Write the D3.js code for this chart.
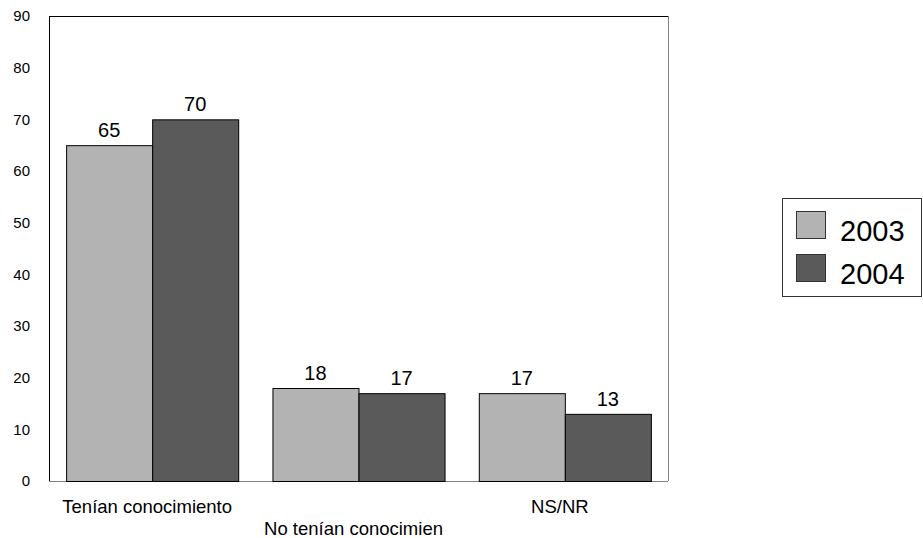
<!DOCTYPE html>
<html>
<head>
<meta charset="utf-8">
<script src="https://cdn.jsdelivr.net/npm/d3@7"></script>
<style>
  html, body { margin: 0; padding: 0; background: #fff; }
  svg { display: block; font-family: "Liberation Sans", Arial, sans-serif; }
</style>
</head>
<body>
<svg id="chart" width="923" height="538"></svg>
<script>
const categories = ["Tenían conocimiento", "No tenían conocimien", "NS/NR"];
const series = ["2003", "2004"];
const values2003 = [65, 18, 17];
const values2004 = [70, 17, 13];
const yTicks = [0, 10, 20, 30, 40, 50, 60, 70, 80, 90];
const colors = ["#b3b3b3", "#5a5a5a"];

const svg = d3.select("#chart");
const plot = { left: 49, right: 668, top: 16, bottom: 481 };

const x = d3.scaleBand().domain(categories).range([plot.left, plot.right])
  .paddingInner(0.166).paddingOuter(0.083);
const xs = d3.scaleBand().domain(series).range([0, x.bandwidth()]).padding(0);
const y = d3.scaleLinear().domain([0, 90]).range([plot.bottom, plot.top]);

const data = categories.map((c, i) => ({ cat: c, vals: [values2003[i], values2004[i]] }));

// plot frame
svg.append("line").attr("x1", plot.left + 0.5).attr("x2", plot.left + 0.5)
  .attr("y1", plot.top).attr("y2", plot.bottom).attr("stroke", "#000");
svg.append("line").attr("x1", plot.left).attr("x2", plot.right)
  .attr("y1", plot.top + 0.5).attr("y2", plot.top + 0.5).attr("stroke", "#000");
svg.append("line").attr("x1", plot.right + 0.5).attr("x2", plot.right + 0.5)
  .attr("y1", plot.top).attr("y2", plot.bottom).attr("stroke", "#808080");
svg.append("line").attr("x1", plot.left).attr("x2", plot.right)
  .attr("y1", plot.bottom + 0.5).attr("y2", plot.bottom + 0.5).attr("stroke", "#808080");

// y axis labels
const yAxis = d3.axisLeft(y).tickValues(yTicks).tickSize(0).tickPadding(19);
const ya = svg.append("g").attr("transform", `translate(${plot.left},0)`).call(yAxis);
ya.select(".domain").remove();
ya.selectAll("text").attr("font-size", 15).attr("fill", "#000")
  .attr("font-family", "Liberation Sans, Arial, sans-serif");

// bars
const groups = svg.selectAll("g.grp").data(data).enter().append("g")
  .attr("class", "grp").attr("transform", d => `translate(${x(d.cat)},0)`);
groups.selectAll("rect").data(d => d.vals.map((v, j) => ({ s: series[j], v, j })))
  .enter().append("rect")
  .attr("x", d => xs(d.s) + 0.5)
  .attr("y", d => y(d.v) + 0.5)
  .attr("width", xs.bandwidth())
  .attr("height", d => y(0) - y(d.v))
  .attr("fill", d => colors[d.j])
  .attr("stroke", "#000").attr("stroke-width", 1);
groups.selectAll("text.val").data(d => d.vals.map((v, j) => ({ s: series[j], v, j })))
  .enter().append("text").attr("class", "val")
  .attr("x", d => xs(d.s) + xs.bandwidth() / 2)
  .attr("y", d => y(d.v) - 8)
  .attr("text-anchor", "middle").attr("font-size", 20).attr("fill", "#000")
  .text(d => d.v);

// category labels (staggered)
svg.selectAll("text.cat").data(categories).enter().append("text").attr("class", "cat")
  .attr("x", d => x(d) + x.bandwidth() / 2 - 5)
  .attr("y", (d, i) => i % 2 === 0 ? 513 : 535)
  .attr("text-anchor", "middle").attr("font-size", 18.5).attr("fill", "#000")
  .text(d => d);

// legend
const lg = svg.append("g");
lg.append("rect").attr("x", 782.5).attr("y", 198.5).attr("width", 139).attr("height", 98)
  .attr("fill", "#fff").attr("stroke", "#333").attr("stroke-width", 1);
const li = lg.selectAll("g.li").data(series).enter().append("g").attr("class", "li")
  .attr("transform", (d, i) => `translate(0,${i * 43})`);
li.append("rect").attr("x", 796.5).attr("y", 211.5).attr("width", 29).attr("height", 27)
  .attr("fill", (d, i) => colors[i]).attr("stroke", "#333");
li.append("text").attr("x", 840).attr("y", 241).attr("font-size", 29).attr("fill", "#000")
  .text(d => d);
</script>
</body>
</html>
